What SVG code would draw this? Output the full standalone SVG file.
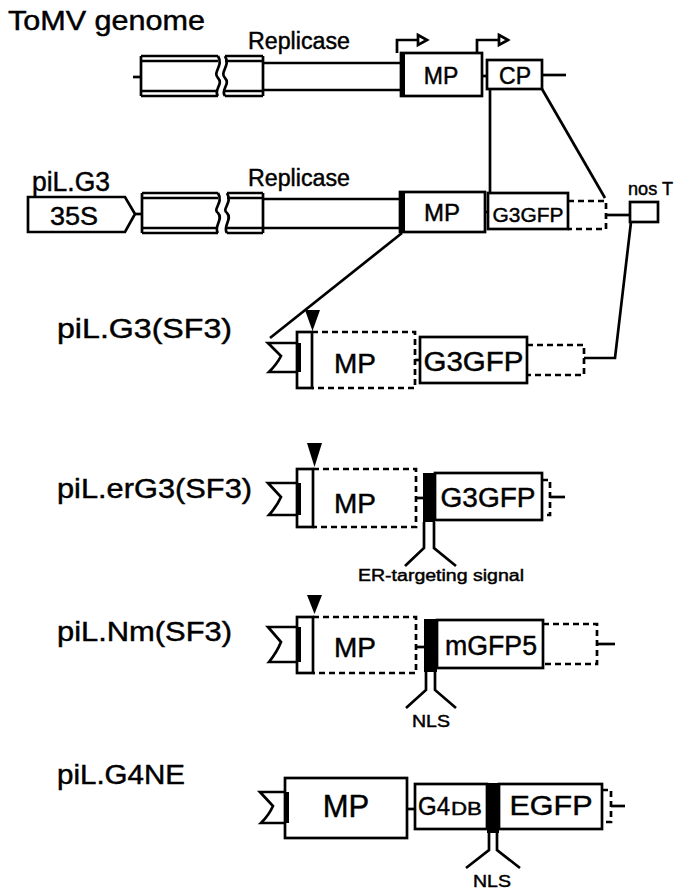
<svg xmlns="http://www.w3.org/2000/svg" width="674" height="891" viewBox="0 0 674 891">
<style>
text{font-family:"Liberation Sans",Arial,sans-serif;fill:#000;stroke:#000;stroke-width:0.45}
.s{fill:none;stroke:#000;stroke-width:2.7}
.b{fill:#fff;stroke:#000;stroke-width:2.7}
.d{fill:none;stroke:#000;stroke-width:2.7;stroke-dasharray:6 4}
.k{fill:#000}
.lbl{font-size:27px}
.mid{text-anchor:middle}
</style>
<rect width="674" height="891" fill="#fff"/>

<g id="row1">
<text x="8" y="30" class="lbl" font-size="26" textLength="197" lengthAdjust="spacingAndGlyphs">ToMV genome</text>
<text x="248" y="49" font-size="23" textLength="102" lengthAdjust="spacingAndGlyphs">Replicase</text>
<path class="s" d="M133,77 H141"/>
<path class="s" d="M141,56 V96 M141,56 H218 M225,56 H263 M141,61 H218 M225,61 H263 M141,96 H218 M225,96 H263 M141,91 H218 M225,91 H263 M263,56 V96"/>
<path class="s" d="M218,56 C224,66 212,72 218,78 C224,84 213,90 218,96 M225,56 C231,66 219,72 225,78 C231,84 220,90 225,96"/>
<path class="s" d="M263,63 H401 M263,90 H401"/>
<rect class="b" x="401" y="53" width="81" height="43"/>
<rect class="k" x="400" y="53" width="5" height="43"/>
<text x="441" y="84" font-size="23" class="mid">MP</text>
<path class="s" d="M482,76 H487"/>
<rect class="b" x="487" y="60" width="55" height="29"/>
<text x="515" y="84" font-size="23" class="mid">CP</text>
<path class="s" d="M542,75 H566"/>
<path class="s" d="M397,53 V40 H418 M477,53 V40 H499"/>
<polygon class="b" points="418,35 427,40 418,45" stroke-width="2"/>
<polygon class="b" points="499,35 508,40 499,45" stroke-width="2"/>
</g>

<g id="row2">
<text x="32" y="191" class="lbl" font-size="26" textLength="78" lengthAdjust="spacingAndGlyphs">piL.G3</text>
<text x="248" y="186" font-size="23" textLength="102" lengthAdjust="spacingAndGlyphs">Replicase</text>
<path class="b" d="M28,197 H125 L135,214 L125,232 H28 Z"/>
<text x="74" y="225" font-size="26" class="mid" textLength="48" lengthAdjust="spacingAndGlyphs">35S</text>
<path class="s" d="M135,214 H142"/>
<path class="s" d="M142,193 V233 M142,193 H218 M227,193 H263 M142,198 H218 M227,198 H263 M142,233 H218 M227,233 H263 M142,228 H218 M227,228 H263 M263,193 V233"/>
<path class="s" d="M218,193 C224,203 212,209 218,213 C224,219 213,227 218,233 M227,193 C233,203 221,209 227,213 C233,219 222,227 227,233"/>
<path class="s" d="M263,199 H400 M263,228 H400"/>
<rect class="b" x="400" y="192" width="85" height="40"/>
<rect class="k" x="399" y="192" width="6" height="40"/>
<text x="442" y="221" font-size="24" class="mid">MP</text>
<path class="s" d="M485,212 H488"/>
<rect class="b" x="488" y="193" width="80" height="36"/>
<text x="528" y="222" font-size="21" class="mid" textLength="71" lengthAdjust="spacingAndGlyphs">G3GFP</text>
<path class="d" d="M568,201 H606 V229 H568"/>
<path class="s" d="M606,215 H630"/>
<rect class="b" x="630" y="202" width="28" height="20"/>
<text x="628" y="195" font-size="18" textLength="45" lengthAdjust="spacingAndGlyphs">nos T</text>
</g>

<g id="connectors">
<path class="s" d="M490,89 V192"/>
<path class="s" d="M542,89 L605,198"/>
<path class="s" d="M402,233 L270,338"/>
<path class="s" d="M584,358 H615 L631,222"/>
</g>

<g id="row3">
<text x="57" y="338" class="lbl" textLength="175" lengthAdjust="spacingAndGlyphs">piL.G3(SF3)</text>
<path class="b" d="M297,343 H268 L281,356 Q277,364 269,372 H297"/>
<rect class="b" x="297" y="332" width="15" height="56"/>
<rect class="k" x="297" y="343" width="4" height="29"/>
<polygon class="k" points="305,310 320,310 312.5,331"/>
<path class="d" d="M312,332 H415 V388 H312"/>
<text x="355" y="373" font-size="28" class="mid">MP</text>
<path class="s" d="M415,360 H420"/>
<rect class="b" x="420" y="337" width="107" height="46"/>
<text x="473.5" y="371" font-size="27" class="mid" textLength="100" lengthAdjust="spacingAndGlyphs">G3GFP</text>
<path class="d" d="M527,345 H584 V375 H527"/>
</g>

<g id="row4">
<text x="57" y="498" class="lbl" textLength="195" lengthAdjust="spacingAndGlyphs">piL.erG3(SF3)</text>
<polygon class="k" points="307,443 322,443 314.5,467"/>
<path class="b" d="M297,483 H268 L281,497 Q277,506 269,515 H297"/>
<rect class="b" x="297" y="469" width="16" height="58"/>
<rect class="k" x="297" y="483" width="4" height="32"/>
<path class="d" d="M313,469 H416 V527 H313"/>
<text x="355" y="513" font-size="28" class="mid">MP</text>
<path class="s" d="M416,498 H423"/>
<rect class="b" x="435" y="473" width="107" height="47"/>
<rect class="k" x="423" y="473" width="12" height="49"/>
<text x="488" y="507" font-size="27" class="mid" textLength="95" lengthAdjust="spacingAndGlyphs">G3GFP</text>
<path class="d" d="M542,480 H550 V515 H542"/>
<path class="s" d="M550,497 H565"/>
<path class="s" d="M424,522 V548 L405,566 M434,522 V548 L456,566"/>
<text x="441" y="581" font-size="16" class="mid" textLength="166" lengthAdjust="spacingAndGlyphs">ER-targeting signal</text>
</g>

<g id="row5">
<text x="57" y="641" class="lbl" textLength="175" lengthAdjust="spacingAndGlyphs">piL.Nm(SF3)</text>
<polygon class="k" points="307,595 322,595 314.5,614"/>
<path class="b" d="M297,627 H268 L281,642 Q277,652 269,662 H297"/>
<rect class="b" x="297" y="617" width="16" height="56"/>
<rect class="k" x="297" y="627" width="4" height="35"/>
<path class="d" d="M313,617 H416 V673 H313"/>
<text x="355" y="657" font-size="28" class="mid">MP</text>
<path class="s" d="M416,647 H424"/>
<rect class="b" x="437" y="620" width="106" height="48"/>
<rect class="k" x="424" y="619" width="13" height="53"/>
<text x="491" y="655" font-size="27" class="mid" textLength="92" lengthAdjust="spacingAndGlyphs">mGFP5</text>
<path class="d" d="M543,624 H597 V664 H543"/>
<path class="s" d="M597,644 H615"/>
<path class="s" d="M426,672 V690 L406,708 M435,672 V690 L456,708"/>
<text x="431" y="727" font-size="17" class="mid" textLength="38" lengthAdjust="spacingAndGlyphs">NLS</text>
</g>

<g id="row6">
<text x="57" y="784" class="lbl" textLength="128" lengthAdjust="spacingAndGlyphs">piL.G4NE</text>
<path class="b" d="M285,792 H260 L273,806 Q269,815 261,823 H285"/>
<rect class="b" x="285" y="778" width="122" height="60"/>
<rect class="k" x="285" y="792" width="4" height="31"/>
<text x="346" y="817" font-size="31" class="mid">MP</text>
<path class="s" d="M407,809 H415"/>
<rect class="b" x="415" y="784" width="72" height="45"/>
<text x="418" y="815" font-size="25" textLength="32" lengthAdjust="spacingAndGlyphs">G4</text>
<text x="451" y="815" font-size="19" textLength="31" lengthAdjust="spacingAndGlyphs">DB</text>
<rect class="b" x="499" y="784" width="103" height="45"/>
<rect class="k" x="487" y="783" width="12" height="50"/>
<text x="551" y="815" font-size="28" class="mid" textLength="83" lengthAdjust="spacingAndGlyphs">EGFP</text>
<path class="d" d="M602,790 H611 V822 H602"/>
<path class="s" d="M611,806 H625"/>
<path class="s" d="M489,833 V850 L466,868 M497,833 V850 L520,868"/>
<text x="492" y="887" font-size="17" class="mid" textLength="38" lengthAdjust="spacingAndGlyphs">NLS</text>
</g>
</svg>
